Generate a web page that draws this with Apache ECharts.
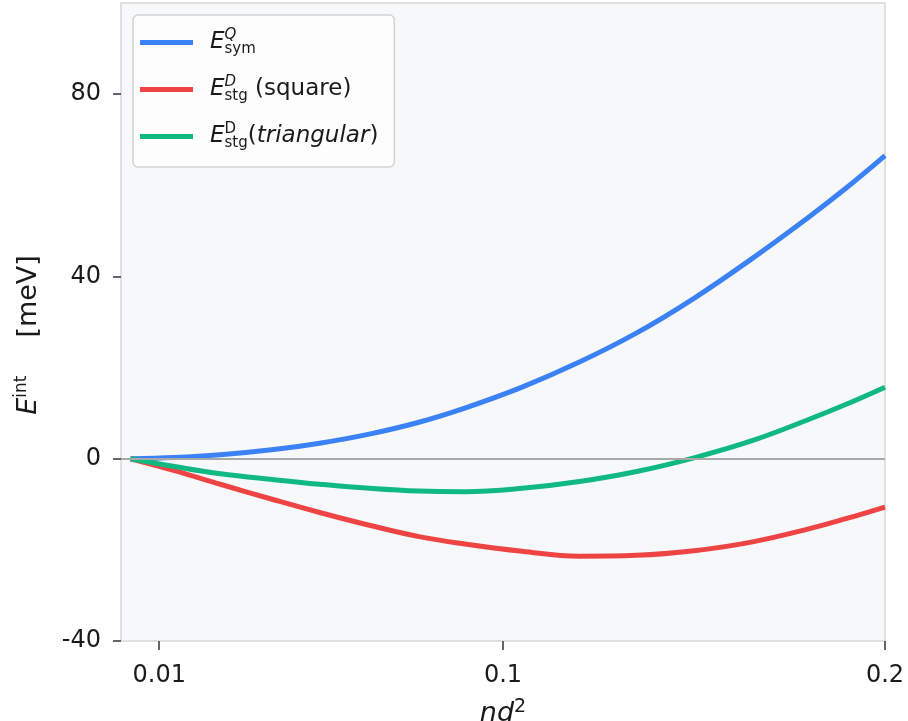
<!DOCTYPE html>
<html>
<head>
<meta charset="utf-8">
<script src="https://cdn.jsdelivr.net/npm/echarts@6/dist/echarts.min.js"></script>
<style>html,body{margin:0;padding:0;background:#fff;}#c{width:908px;height:721px;}</style>
</head>
<body>
<div id="c"></div>
<script>
const xValues = [0.0025, 0.014, 0.026, 0.04, 0.052, 0.065, 0.078, 0.09, 0.105, 0.12, 0.135, 0.15, 0.165, 0.18, 0.19, 0.2];
const symQ = [0, 0.25, 0.85, 2.0, 3.4, 5.4, 8.0, 11.1, 15.7, 21.2, 27.6, 35.2, 43.8, 53.0, 59.5, 66.5];
const stgSquare = [0, -2.6, -5.6, -9.0, -11.8, -14.6, -17.1, -18.7, -20.3, -21.4, -21.2, -20.2, -18.3, -15.4, -13.1, -10.6];
const stgTriangular = [0, -1.7, -3.3, -4.6, -5.6, -6.5, -7.1, -7.23, -6.5, -5.0, -2.8, 0.2, 3.9, 8.6, 12.0, 15.7];
const xTicks = [0.01, 0.1, 0.2];
const yTicks = [-40, 0, 40, 80];
const seriesNames = ['Esym', 'Esquare', 'Etriangular'];
const colors = ['#3b82f6', '#ef4444', '#10b981'];

const FONT = 'DejaVu Sans';
const pair = (ys) => xValues.map((x, i) => [x, ys[i]]);
const legendRich = {
  e: {fontFamily: FONT, fontStyle: 'italic', fontSize: 23, lineHeight: 30, color: '#1a1a1a', verticalAlign: 'middle'},
  sup: {fontFamily: FONT, fontStyle: 'italic', fontSize: 15, lineHeight: 16, padding: [0, 0, 14, 0], width: 0, color: '#1a1a1a', verticalAlign: 'middle'},
  supr: {fontFamily: FONT, fontSize: 15, lineHeight: 16, padding: [0, 0, 14, 0], width: 0, color: '#1a1a1a', verticalAlign: 'middle'},
  sub: {fontFamily: FONT, fontSize: 15, lineHeight: 16, padding: [14, 0, 0, 0], color: '#1a1a1a', verticalAlign: 'middle'},
  t: {fontFamily: FONT, fontSize: 23, lineHeight: 30, color: '#1a1a1a', verticalAlign: 'middle'},
  ti: {fontFamily: FONT, fontStyle: 'italic', fontSize: 23, lineHeight: 30, color: '#1a1a1a', verticalAlign: 'middle'}
};
const legendLabels = {
  Esym: '{e|E}{sup|Q}{sub|sym}',
  Esquare: '{e|E}{sup|D}{sub|stg}{t| (square)}',
  Etriangular: '{e|E}{supr|D}{sub|stg}{t|(}{ti|triangular}{t|)}'
};

const chart = echarts.init(document.getElementById('c'), null, {renderer: 'canvas'});
const dataSeries = [symQ, stgSquare, stgTriangular].map((ys, i) => ({
  name: seriesNames[i],
  type: 'line',
  data: pair(ys),
  smooth: 0.4,
  showSymbol: false,
  symbol: 'none',
  z: 3,
  lineStyle: {color: colors[i], width: 5},
  itemStyle: {color: colors[i]}
}));
dataSeries.push({
  name: 'zero',
  type: 'line',
  data: [],
  z: 1,
  markLine: {
    silent: true,
    symbol: 'none',
    label: {show: false},
    lineStyle: {color: '#a8a8a8', width: 2, type: 'solid'},
    data: [{yAxis: 0}]
  }
});

chart.setOption({
  animation: false,
  backgroundColor: '#ffffff',
  grid: {left: 121, right: 23, top: 3, bottom: 80, outerBoundsMode: 'none', containLabel: false, show: true, backgroundColor: '#f7f8fa', borderColor: '#d6d6d6', borderWidth: 1.5},
  xAxis: {
    type: 'value', min: 0, max: 0.2,
    name: '{n|nd}{s|2}', nameLocation: 'middle', nameGap: 57,
    nameTextStyle: {rich: {
      n: {fontFamily: FONT, fontStyle: 'italic', fontSize: 27, color: '#1a1a1a', lineHeight: 32, verticalAlign: 'middle'},
      s: {fontFamily: FONT, fontSize: 19, color: '#1a1a1a', lineHeight: 20, padding: [0, 0, 14, 0], verticalAlign: 'middle'}
    }},
    splitLine: {show: false},
    axisLine: {show: false, onZero: false},
    axisTick: {show: true, length: 9, lineStyle: {color: '#333', width: 1.5}, customValues: xTicks},
    axisLabel: {fontFamily: FONT, fontSize: 24, color: '#1a1a1a', margin: 23, customValues: xTicks, formatter: (v) => String(v)}
  },
  yAxis: {
    type: 'value', min: -40, max: 100,
    name: '{e|E}{s|int}{n|[meV]}', nameLocation: 'middle', nameGap: 76, nameRotate: 90,
    nameTextStyle: {padding: [0, 26, 0, 0], rich: {
      e: {fontFamily: FONT, fontStyle: 'italic', fontSize: 27, color: '#1a1a1a', lineHeight: 32, verticalAlign: 'middle'},
      s: {fontFamily: FONT, fontSize: 17, color: '#1a1a1a', lineHeight: 18, padding: [0, 0, 14, 0], verticalAlign: 'middle'},
      n: {fontFamily: FONT, fontSize: 27, color: '#1a1a1a', lineHeight: 32, padding: [0, 0, 0, 38], verticalAlign: 'middle'}
    }},
    splitLine: {show: false},
    axisLine: {show: false, onZero: false},
    axisTick: {show: true, length: 8, lineStyle: {color: '#333', width: 1.5}, customValues: yTicks},
    axisLabel: {fontFamily: FONT, fontSize: 24, color: '#1a1a1a', margin: 20, customValues: yTicks}
  },
  legend: {
    show: true,
    orient: 'vertical',
    left: 133, top: 15,
    data: seriesNames,
    icon: 'rect',
    itemWidth: 53, itemHeight: 5, itemGap: 18,
    padding: [13, 16, 16, 7],
    backgroundColor: 'rgba(255,255,255,0.75)',
    borderColor: '#d2d2d2', borderWidth: 1.5, borderRadius: 5,
    selectedMode: false,
    formatter: (name) => legendLabels[name],
    textStyle: {padding: [0, 0, 0, 12], rich: legendRich}
  },
  series: dataSeries
});
</script>
</body>
</html>
